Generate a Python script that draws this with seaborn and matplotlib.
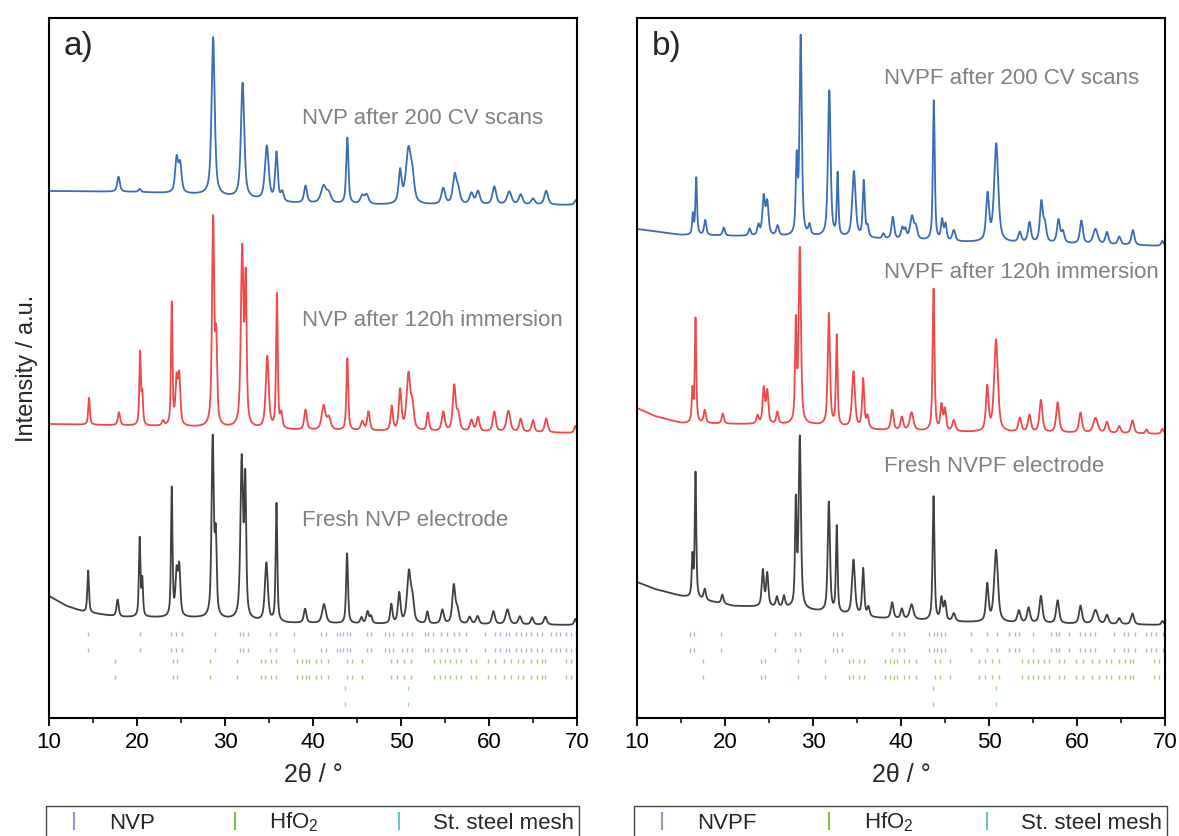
import numpy as np
import pandas as pd
import matplotlib
matplotlib.use("Agg")
import matplotlib.pyplot as plt
import seaborn as sns
from matplotlib.lines import Line2D
from matplotlib.ticker import MultipleLocator

# ------------------------------------------------------------------
# DATA (intensity in arbitrary units)
# ------------------------------------------------------------------
x_ticks = [10, 20, 30, 40, 50, 60, 70]

# --- panel a) NVP --------------------------------------------------
nvp_cv_pos = [17.9, 20.3, 24.5, 24.9, 28.65, 32.0, 34.75, 35.85, 36.5, 39.15, 41.2, 41.8, 43.9, 45.6, 46.1,
              49.9, 50.85, 51.3, 54.8, 56.1, 56.5, 58.0, 58.75, 60.6, 62.3, 63.6, 65.0, 66.5, 69.9]
nvp_cv_hgt = [15, 3, 34, 28, 158, 115, 54, 48, 9, 17, 17, 9, 66, 8, 9,
              32, 54, 20, 16, 28, 13, 11, 13, 18, 13, 10, 6, 14, 5]
nvp_cv_fwhm = [0.35, 0.3, 0.4, 0.4, 0.42, 0.45, 0.5, 0.35, 0.4, 0.4, 0.7, 0.6, 0.3, 0.5, 0.5,
               0.4, 0.7, 0.5, 0.5, 0.5, 0.5, 0.5, 0.5, 0.5, 0.6, 0.5, 0.5, 0.5, 0.4]
nvp_cv_bx = [10, 20, 28, 37, 48, 70]
nvp_cv_by = [527, 526, 523, 515, 513, 513]

nvp_im_pos = [14.55, 17.95, 20.35, 20.6, 22.95, 23.95, 24.5, 24.8, 28.65, 29.0, 31.95, 32.35, 34.8, 35.9, 36.4,
              39.15, 41.2, 41.8, 43.9, 45.6, 46.3, 48.95, 49.9, 50.85, 51.3, 53.05, 54.8, 56.05, 56.5, 58.0,
              58.75, 60.6, 62.2, 63.6, 65.0, 66.5, 69.8]
nvp_im_hgt = [27, 13, 72, 30, 5, 122, 44, 48, 206, 80, 176, 140, 72, 134, 14,
              20, 24, 12, 72, 9, 19, 24, 40, 56, 22, 18, 19, 45, 16, 11,
              14, 20, 21, 13, 12, 14, 7]
nvp_im_fwhm = [0.22, 0.3, 0.2, 0.2, 0.3, 0.2, 0.3, 0.3, 0.3, 0.25, 0.35, 0.25, 0.4, 0.22, 0.3,
               0.35, 0.5, 0.5, 0.25, 0.4, 0.35, 0.3, 0.35, 0.5, 0.4, 0.3, 0.4, 0.4, 0.4, 0.4,
               0.4, 0.4, 0.5, 0.4, 0.35, 0.4, 0.3]
nvp_im_bx = [10, 21, 30, 37, 45, 60, 70]
nvp_im_by = [294, 292, 290, 288, 287, 286, 285]

nvp_fr_pos = [14.45, 17.8, 20.3, 20.6, 23.95, 24.5, 24.8, 28.6, 28.95, 31.9, 32.3, 34.7, 35.85, 39.1, 41.25,
              43.87, 45.5, 46.2, 46.6, 48.9, 49.8, 50.9, 51.3, 53.0, 54.7, 56.0, 56.4, 57.8, 58.7, 60.5,
              62.1, 63.5, 64.9, 66.4, 69.8]
nvp_fr_hgt = [42, 17, 78, 36, 128, 42, 48, 178, 75, 158, 133, 58, 118, 14, 19,
              70, 6, 12, 7, 19, 30, 51, 20, 12, 14, 38, 13, 7, 8, 13,
              15, 8, 7, 8, 6]
nvp_fr_fwhm = [0.22, 0.3, 0.2, 0.2, 0.2, 0.3, 0.3, 0.3, 0.25, 0.35, 0.25, 0.4, 0.22, 0.35, 0.5,
               0.25, 0.3, 0.35, 0.3, 0.3, 0.35, 0.5, 0.4, 0.3, 0.4, 0.4, 0.4, 0.4, 0.4, 0.4,
               0.5, 0.4, 0.35, 0.4, 0.3]
nvp_fr_bx = [10, 12, 14, 18, 27, 37, 46, 70]
nvp_fr_by = [122, 112, 106, 101, 100, 95, 94, 93]

# --- panel b) NVPF -------------------------------------------------
nvpf_cv_pos = [16.35, 16.73, 17.75, 19.86, 22.8, 23.8, 24.4, 24.8, 25.97, 28.15, 28.6, 29.6, 31.85, 32.8, 34.65,
               35.77, 36.2, 38.0, 39.07, 40.15, 40.5, 41.25, 41.7, 43.73, 44.67, 45.06, 46.0, 49.84, 50.82, 53.5,
               54.6, 55.95, 56.35, 57.9, 58.4, 60.5, 62.1, 63.4, 64.8, 66.35, 69.7]
nvpf_cv_hgt = [20, 57, 15, 8, 7, 10, 38, 32, 10, 73, 198, 10, 146, 62, 66,
               56, 10, 5, 22, 11, 9, 23, 11, 140, 20, 16, 11, 46, 98, 10,
               20, 40, 17, 23, 11, 23, 15, 12, 8, 15, 5]
nvpf_cv_fwhm = [0.2, 0.22, 0.3, 0.3, 0.3, 0.3, 0.35, 0.35, 0.35, 0.25, 0.3, 0.3, 0.35, 0.22, 0.45,
                0.28, 0.3, 0.3, 0.35, 0.35, 0.3, 0.5, 0.4, 0.25, 0.3, 0.3, 0.4, 0.4, 0.55, 0.4,
                0.4, 0.4, 0.4, 0.4, 0.4, 0.4, 0.6, 0.4, 0.4, 0.4, 0.3]
nvpf_cv_bx = [10, 15, 21, 30, 37, 46, 60, 70]
nvpf_cv_by = [489, 483, 482, 481, 479, 476, 474, 472]

nvpf_im_pos = [16.3, 16.65, 17.7, 19.75, 23.7, 24.4, 24.8, 25.95, 28.05, 28.5, 31.8, 32.7, 34.6, 35.7, 36.2,
               39.0, 40.1, 41.2, 43.7, 44.6, 45.0, 46.0, 49.8, 50.8, 53.5, 54.6, 55.9, 57.8, 60.4, 62.1,
               63.4, 64.8, 66.3, 67.9, 69.7]
nvpf_im_hgt = [32, 104, 13, 10, 8, 35, 32, 12, 98, 174, 112, 90, 56, 49, 12,
               20, 13, 18, 142, 25, 21, 11, 44, 92, 14, 17, 32, 30, 20, 15,
               11, 7, 13, 4, 5]
nvpf_im_fwhm = [0.2, 0.2, 0.3, 0.3, 0.3, 0.3, 0.3, 0.3, 0.22, 0.3, 0.3, 0.22, 0.4, 0.28, 0.3,
                0.35, 0.35, 0.5, 0.25, 0.3, 0.3, 0.4, 0.35, 0.5, 0.4, 0.4, 0.4, 0.4, 0.4, 0.6,
                0.4, 0.4, 0.4, 0.3, 0.3]
nvpf_im_bx = [10, 12, 15, 21, 30, 37, 46, 60, 70]
nvpf_im_by = [310, 302, 295, 294, 293, 288, 286, 285, 284]

nvpf_fr_pos = [16.3, 16.65, 17.7, 19.7, 24.3, 24.8, 25.9, 26.7, 28.05, 28.5, 31.8, 32.7, 34.6, 35.7, 36.3,
               39.0, 40.1, 41.2, 43.7, 44.6, 45.0, 46.0, 49.8, 50.8, 53.4, 54.5, 55.9, 57.8, 60.4, 62.1,
               63.4, 64.8, 66.3, 69.7]
nvpf_fr_hgt = [40, 125, 11, 9, 36, 33, 10, 11, 103, 170, 110, 86, 55, 47, 9,
               16, 10, 15, 124, 22, 18, 8, 37, 72, 12, 15, 27, 23, 18, 14,
               9, 6, 11, 4]
nvpf_fr_fwhm = [0.2, 0.2, 0.3, 0.3, 0.3, 0.3, 0.3, 0.3, 0.22, 0.3, 0.3, 0.22, 0.4, 0.28, 0.3,
                0.35, 0.35, 0.5, 0.25, 0.3, 0.3, 0.4, 0.35, 0.5, 0.4, 0.4, 0.4, 0.4, 0.4, 0.6,
                0.4, 0.4, 0.4, 0.3]
nvpf_fr_bx = [10, 12, 15, 18, 21, 27, 37, 46, 60, 70]
nvpf_fr_by = [136, 129, 122, 117, 112, 110, 100, 96, 94, 93]

# --- reference reflections (tick marks) ----------------------------
nvp_ref = [14.4, 20.3, 23.9, 24.45, 25.1, 28.9, 31.7, 32.1, 32.6, 35.15, 35.8, 37.8, 40.9, 41.5, 42.7, 43.1,
           43.45, 43.85, 44.2, 46.1, 46.6, 48.2, 48.6, 49.1, 50.1, 50.7, 51.3, 52.7, 53.1, 53.65, 54.6, 55.2,
           56.0, 56.6, 57.4, 59.5, 60.7, 61.3, 61.9, 62.3, 63.1, 63.6, 64.2, 64.8, 65.4, 66.0, 67.0, 67.6,
           68.1, 68.7, 69.3, 69.9]
nvpf_ref = [16.05, 16.45, 19.6, 25.65, 27.95, 28.5, 32.3, 32.7, 33.3, 39.0, 39.75, 40.35, 43.2, 43.7, 44.1,
            44.5, 44.95, 48.0, 49.75, 50.9, 52.3, 52.9, 53.4, 55.05, 57.0, 57.6, 58.0, 59.05, 60.35, 60.9,
            61.5, 62.1, 64.25, 65.3, 65.8, 66.6, 67.8, 68.4, 69.0, 69.75]
hfo2_ref = [17.5, 24.1, 24.6, 28.3, 31.4, 34.1, 34.6, 35.2, 35.8, 38.2, 38.7, 39.15, 39.6, 40.3, 40.9, 41.7,
            43.85, 44.4, 45.6, 48.9, 49.5, 50.3, 51.1, 53.8, 54.4, 55.0, 55.6, 56.2, 56.8, 58.0, 58.5, 59.9,
            60.7, 61.7, 62.5, 63.25, 63.85, 64.8, 65.4, 66.0, 66.4, 68.7, 69.3]
steel_ref = [43.6, 50.8]

labels_a = ["NVP after 200 CV scans", "NVP after 120h immersion", "Fresh NVP electrode"]
labels_b = ["NVPF after 200 CV scans", "NVPF after 120h immersion", "Fresh NVPF electrode"]
legend_a = ["NVP", "HfO$_2$", "St. steel mesh"]
legend_b = ["NVPF", "HfO$_2$", "St. steel mesh"]

# ------------------------------------------------------------------
# STYLE
# ------------------------------------------------------------------
sns.set_theme(style="ticks")
plt.rcParams['font.family'] = ['Liberation Sans', 'DejaVu Sans']
plt.rcParams['mathtext.fontset'] = 'custom'
plt.rcParams['mathtext.rm'] = 'Liberation Sans'
plt.rcParams['mathtext.it'] = 'Liberation Sans'
plt.rcParams['mathtext.bf'] = 'Liberation Sans:bold'

c_blue, c_red, c_black = "#3b6cb7", "#f0494a", "#404040"
c_nvp, c_hfo2, c_steel = "#a98bd3", "#7cc142", "#5ec8cf"
c_label = "#808080"

tt = np.linspace(10, 70, 6001)


def profile(pos, hgt, fwhm, bx, by):
    y = np.interp(tt, bx, by)
    for p, h, w in zip(pos, hgt, fwhm):
        d = (tt - p) / (w / 2.0)
        y = y + h * (0.65 / (1.0 + d ** 2) + 0.35 * np.exp(-np.log(2) * d ** 2))
    return y


W, H = 1179, 836
fig = plt.figure(figsize=(W / 100, H / 100), dpi=100)
ax_a = fig.add_axes([49 / W, 1 - 718 / H, 528 / W, 700 / H])
ax_b = fig.add_axes([637 / W, 1 - 718 / H, 528 / W, 700 / H])

panels = [
    (ax_a, "a)", labels_a, legend_a, nvp_ref,
     [(nvp_cv_pos, nvp_cv_hgt, nvp_cv_fwhm, nvp_cv_bx, nvp_cv_by, c_blue),
      (nvp_im_pos, nvp_im_hgt, nvp_im_fwhm, nvp_im_bx, nvp_im_by, c_red),
      (nvp_fr_pos, nvp_fr_hgt, nvp_fr_fwhm, nvp_fr_bx, nvp_fr_by, c_black)],
     [(38.75, 600), (38.75, 398), (38.75, 198)]),
    (ax_b, "b)", labels_b, legend_b, nvpf_ref,
     [(nvpf_cv_pos, nvpf_cv_hgt, nvpf_cv_fwhm, nvpf_cv_bx, nvpf_cv_by, c_blue),
      (nvpf_im_pos, nvpf_im_hgt, nvpf_im_fwhm, nvpf_im_bx, nvpf_im_by, c_red),
      (nvpf_fr_pos, nvpf_fr_hgt, nvpf_fr_fwhm, nvpf_fr_bx, nvpf_fr_by, c_black)],
     [(38.07, 640), (38.07, 445), (38.07, 252)]),
]

for ax, tag, labels, leg_labels, phase_ref, curves, label_xy in panels:
    for (pos, hgt, fw, bx, by, col), lab, (lx, ly) in zip(curves, labels, label_xy):
        df = pd.DataFrame({"two_theta": tt, "intensity": profile(pos, hgt, fw, bx, by)})
        sns.lineplot(data=df, x="two_theta", y="intensity", ax=ax, color=col, lw=1.3,
                     estimator=None, sort=False)
        ax.text(lx, ly, lab, color=c_label, fontsize=16, ha="left", va="center")

    # reference reflection marks (two rows per phase)
    for refs, col, rows in [(phase_ref, c_nvp, (84, 68)), (hfo2_ref, c_hfo2, (57, 41)),
                            (steel_ref, c_steel, (30, 14))]:
        for r in rows:
            ax.plot(refs, [r] * len(refs), ls="None", marker="|", ms=2.2, mew=1.0,
                    color=col, alpha=0.75)

    ax.text(0.028, 0.96, tag, transform=ax.transAxes, fontsize=24, ha="left", va="center")

    ax.set_xlim(10, 70)
    ax.set_ylim(0, 700)
    ax.set_xticks(x_ticks)
    ax.xaxis.set_minor_locator(MultipleLocator(5))
    ax.set_yticks([])
    ax.tick_params(axis="x", which="major", direction="out", length=6, width=1.3, labelsize=16, pad=4,
                   colors="black")
    ax.tick_params(axis="x", which="minor", direction="out", length=3.5, width=1.3)
    for s in ax.spines.values():
        s.set_linewidth(1.5)
        s.set_color("black")
    ax.set_xlabel("2θ / °", fontsize=18, labelpad=7)
    ax.set_ylabel("")

    handles = [Line2D([], [], ls="None", marker="|", ms=13, mew=1.5, color=c)
               for c in (c_nvp, c_hfo2, c_steel)]
    bb = ax.get_position()
    leg = ax.legend(handles, leg_labels, ncol=3, mode="expand", loc="upper left",
                    bbox_to_anchor=(bb.x0 - 3 / W, 1 - 806 / H, bb.width + 5 / W, 0),
                    bbox_transform=fig.transFigure, frameon=True, fancybox=False,
                    edgecolor="#444444", fontsize=16, handlelength=2.1, handletextpad=0.5,
                    borderpad=0.22, borderaxespad=0, framealpha=1)
    leg.get_frame().set_linewidth(1.0)

ax_a.set_ylabel("Intensity / a.u.", fontsize=17, labelpad=8)

fig.savefig("out.png", dpi=100)
